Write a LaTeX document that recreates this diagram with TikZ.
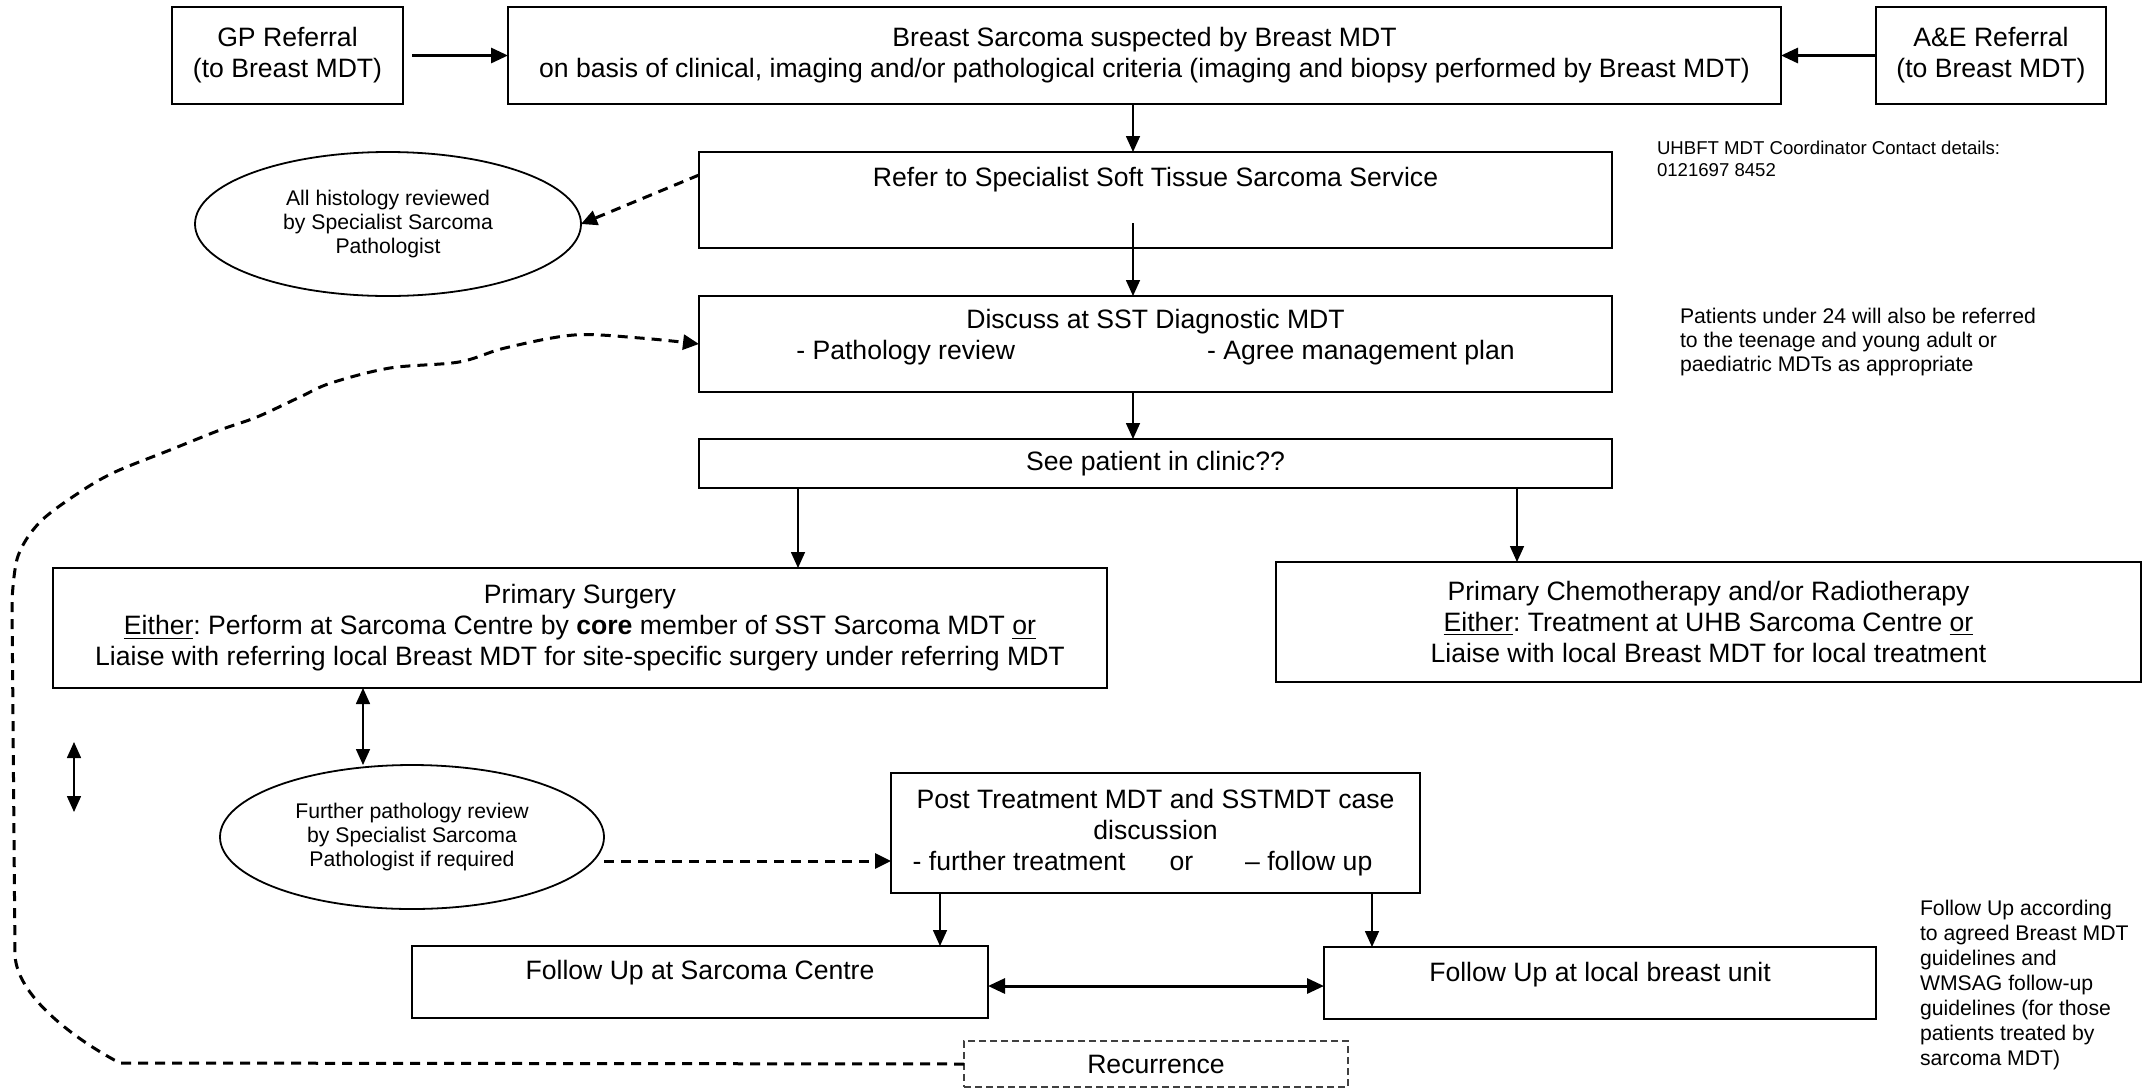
\documentclass[tikz,border=0pt]{standalone}
\usepackage{fontspec}
\setmainfont{Liberation Sans}
\usetikzlibrary{arrows.meta,shapes.geometric,calc}
\frenchspacing
\newcommand\mainfs{\fontsize{13.3}{15.5}\selectfont}
\newcommand\smallfs{\fontsize{10.6}{12}\selectfont}
\newcommand\notefs{\fontsize{10.6}{12.5}\selectfont}
\newcommand\tinyfs{\fontsize{9.3}{10.85}\selectfont}
\tikzset{
  box/.style={draw, rectangle, line width=1pt, inner sep=0pt, outer sep=0pt, align=center, font=\mainfs},
  ell/.style={draw, ellipse, line width=0.9pt, inner sep=0pt, outer sep=0pt, align=center, font=\smallfs},
  note/.style={inner sep=0pt, outer sep=0pt, align=left, anchor=west},
  recbox/.style={draw=black!75, rectangle, line width=0.7pt, dash pattern=on 3.5pt off 2pt, inner sep=0pt, outer sep=0pt, font=\mainfs},
  arr/.style={line width=0.8pt, -{Triangle[length=8pt,width=7pt]}},
  arrthick/.style={line width=1.5pt, -{Triangle[length=8.5pt,width=7.5pt]}},
  darr/.style={line width=0.8pt, {Triangle[length=8pt,width=7pt]}-{Triangle[length=8pt,width=7pt]}},
  darrthick/.style={line width=1.5pt, {Triangle[length=8.5pt,width=7.5pt]}-{Triangle[length=8.5pt,width=7.5pt]}},
  dasharr/.style={line width=1.5pt, dash pattern=on 5pt off 3.5pt, -{Triangle[length=8pt,width=7.5pt]}},
}
\begin{document}
\frenchspacing
\begin{tikzpicture}[x=0.5pt,y=-0.5pt]
\useasboundingbox (0,0) rectangle (2152,1088);
% boxes
\node[box, minimum width=115.5pt, minimum height=48.5pt] (gp) at (287.5,55.5) {GP Referral\\(to Breast MDT)};
\node[box, minimum width=636.5pt, minimum height=48.5pt] (main) at (1144.5,55.5) {Breast Sarcoma suspected by Breast MDT\\on basis of clinical, imaging and/or pathological criteria (imaging and biopsy performed by Breast MDT)};
\node[box, minimum width=115pt, minimum height=48.5pt] (ae) at (1991,55.5) {A\&E Referral\\(to Breast MDT)};
\node[box, minimum width=456.5pt, minimum height=48pt, text depth=22.8pt] (refer) at (1155.5,200) {Refer to Specialist Soft Tissue Sarcoma Service};
\node[box, minimum width=456.5pt, minimum height=48pt, text depth=9.3pt] (discuss) at (1155.5,344) {Discuss at SST Diagnostic MDT\\- Pathology review\hspace{96pt}- Agree management plan};
\node[box, minimum width=456.5pt, minimum height=24.5pt] (see) at (1155.5,463.5) {See patient in clinic??};
\node[box, minimum width=527pt, minimum height=60pt] (surgery) at (580,628) {Primary Surgery\\\underline{Either}: Perform at Sarcoma Centre by \textbf{core} member of SST Sarcoma MDT \underline{or}\\Liaise with referring local Breast MDT for site-specific surgery under referring MDT};
\node[box, minimum width=432.5pt, minimum height=60pt] (chemo) at (1708.5,622) {Primary Chemotherapy and/or Radiotherapy\\\underline{Either}: Treatment at UHB Sarcoma Centre \underline{or}\\Liaise with local Breast MDT for local treatment};
\node[box, minimum width=264.5pt, minimum height=60pt] (post) at (1155.5,833) {Post Treatment MDT and SSTMDT case\\discussion\\- further treatment\hspace{22pt}or\hspace{26pt}– follow up\hspace{13pt}\null};
\node[box, minimum width=288pt, minimum height=36pt, text depth=11.8pt] (fus) at (700,982) {Follow Up at Sarcoma Centre};
\node[box, minimum width=276pt, minimum height=36pt, text depth=10.8pt] (ful) at (1600,983) {Follow Up at local breast unit};
\node[recbox, minimum width=192pt, minimum height=23pt] (rec) at (1156,1064) {Recurrence};
% ellipses
\node[ell, minimum width=193pt, minimum height=72pt] (hist) at (388,224) {All histology reviewed\\by Specialist Sarcoma\\Pathologist};
\node[ell, minimum width=192pt, minimum height=72pt] (further) at (412,837) {Further pathology review\\by Specialist Sarcoma\\Pathologist if required};
% notes
\node[note, font=\tinyfs] (uhb) at (1657,159) {UHBFT MDT Coordinator Contact details:\\0121697 8452};
\node[note, font=\smallfs] (pat) at (1680,342) {Patients under 24 will also be referred\\to the teenage and young adult or\\paediatric MDTs as appropriate};
\node[note, font=\notefs] (fnote) at (1920,984.5) {Follow Up according\\to agreed Breast MDT\\guidelines and\\WMSAG follow-up\\guidelines (for those\\patients treated by\\sarcoma MDT)};
% helper coordinates
\coordinate (cx) at (1133,0);
\coordinate (cs) at (363,0);
\coordinate (cl) at (798,0);
\coordinate (cr) at (1517,0);
\coordinate (cu) at (940,0);
\coordinate (cv) at (1372,0);
\coordinate (cp) at (0,861);
\coordinate (cq) at (0,986);
\coordinate (dA) at (74,742);
\coordinate (dB) at (74,812);
% connectors
\draw[arrthick, shorten <=4.5pt] (gp.east) -- (main.west);
\draw[arrthick] (ae.west) -- (main.east);
\draw[arr] (main.south -| cx) -- (refer.north -| cx);
\draw[arr] ($(refer.south -| cx)+(0,-25)$) -- (discuss.north -| cx);
\draw[arr] (discuss.south -| cx) -- (see.north -| cx);
\draw[arr] (see.south -| cl) -- (surgery.north -| cl);
\draw[arr] (see.south -| cr) -- (chemo.north -| cr);
\draw[darr] (surgery.south -| cs) -- (cs |- further.north);
\draw[darr] (dA) -- (dB);
\draw[dasharr] (further.east |- cp) -- (post.west |- cp);
\draw[arr] (post.south -| cu) -- (fus.north -| cu);
\draw[arr] (post.south -| cv) -- (ful.north -| cv);
\draw[darrthick] (fus.east |- cq) -- (ful.west |- cq);
\draw[dasharr] ($(refer.west)+(0,-25)$) -- (hist.east);
\draw[dasharr] (rec.west) -- (120,1063) .. controls (85,1045) and (17,1000) .. (15,955)
  -- plot[smooth, tension=0.55] coordinates {(12,600) (18,556) (40,522) (80,492) (115,472) (170,450) (220,430) (257,417) (300,397) (331,383) (390,368) (459,362) (505,348) (574,335) (640,338) (discuss.west)};
\end{tikzpicture}
\end{document}
